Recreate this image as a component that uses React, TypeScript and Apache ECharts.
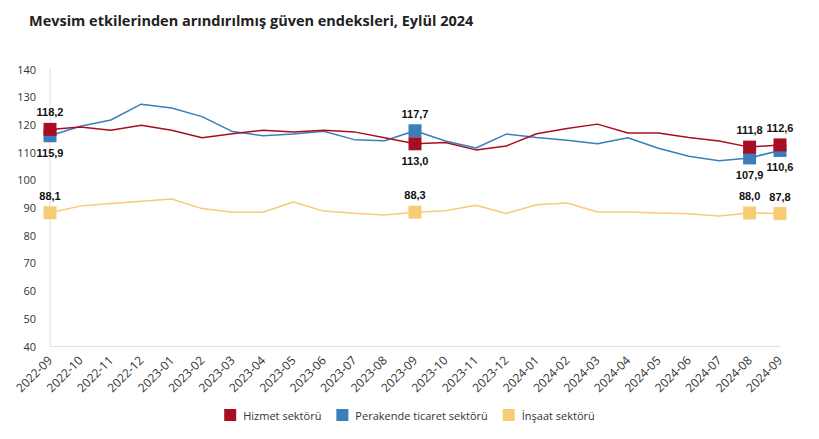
import React, { useEffect, useRef } from "react";
import * as echarts from "echarts";

const categories = [
  "2022-09", "2022-10", "2022-11", "2022-12", "2023-01", "2023-02", "2023-03", "2023-04", "2023-05",
  "2023-06", "2023-07", "2023-08", "2023-09", "2023-10", "2023-11", "2023-12", "2024-01", "2024-02",
  "2024-03", "2024-04", "2024-05", "2024-06", "2024-07", "2024-08", "2024-09",
];

const hizmet = [
  118.2, 119.1, 117.9, 119.7, 117.9, 115.2, 116.6, 117.9, 117.3, 117.9, 117.3, 115.2, 113.0,
  113.5, 110.8, 112.2, 116.6, 118.5, 120.1, 116.9, 116.9, 115.3, 114.0, 111.8, 112.6,
];
const perakende = [
  115.9, 119.3, 121.6, 127.3, 125.9, 122.8, 117.4, 115.9, 116.5, 117.5, 114.5, 114.1, 117.7,
  114.0, 111.5, 116.5, 115.3, 114.3, 113.0, 115.2, 111.4, 108.5, 106.9, 107.9, 110.6,
];
const insaat = [
  88.1, 90.5, 91.4, 92.3, 93.1, 89.6, 88.3, 88.3, 92.0, 88.7, 87.9, 87.3, 88.3,
  88.8, 90.8, 87.8, 91.0, 91.6, 88.4, 88.4, 88.0, 87.7, 86.9, 88.0, 87.8,
];

const highlighted = [0, 12, 23, 24];
// label position per highlighted index: "top" or "bottom"
const hizmetPos: Record<number, string> = { 0: "top", 12: "bottom", 23: "top", 24: "top" };
const perakendePos: Record<number, string> = { 0: "bottom", 12: "top", 23: "bottom", 24: "bottom" };
const insaatPos: Record<number, string> = { 0: "top", 12: "top", 23: "top", 24: "top" };

const seriesNames = ["Hizmet sektörü", "Perakende ticaret sektörü", "İnşaat sektörü"];
const colors = ["#A80E22", "#3A7EBA", "#F6CD74"];

const FONT = "'Open Sans', 'Noto Sans', sans-serif";

function buildData(values: number[], pos: Record<number, string>) {
  return values.map((v, i) => {
    if (highlighted.includes(i)) {
      return {
        value: v,
        symbol: "rect",
        symbolSize: 13,
        label: {
          show: true,
          position: pos[i],
          distance: 5,
          formatter: (p: any) => Number(p.value).toFixed(1).replace(".", ","),
          fontFamily: "Arial, 'Liberation Sans', sans-serif",
          fontSize: 11,
          fontWeight: "bold",
          color: "#111",
        },
      };
    }
    return { value: v };
  });
}

export default function App() {
  const ref = useRef<HTMLDivElement>(null);
  useEffect(() => {
    if (!ref.current) return;
    const chart = echarts.init(ref.current, undefined, { renderer: "svg" });
    const values = [hizmet, perakende, insaat];
    const positions = [hizmetPos, perakendePos, insaatPos];
    chart.setOption({
      animation: false,
      title: {
        text: "Mevsim etkilerinden arındırılmış güven endeksleri, Eylül 2024",
        left: 24,
        top: 8,
        textStyle: { fontFamily: FONT, fontSize: 14.5, fontWeight: "bold", color: "#222" },
      },
      legend: {
        bottom: 13,
        left: "center",
        icon: "rect",
        itemWidth: 12,
        itemHeight: 12,
        itemGap: 15,
        textStyle: { fontFamily: FONT, fontSize: 11, color: "#333", padding: [0, 0, 0, 2] },
        data: seriesNames,
      },
      grid: { left: 50, right: 39, top: 69, bottom: 93, containLabel: false },
      xAxis: {
        type: "category",
        data: categories,
        boundaryGap: false,
        axisLine: { show: true, lineStyle: { color: "#e0e0e0" } },
        axisTick: { show: false },
        axisLabel: {
          rotate: 45,
          fontFamily: FONT,
          fontSize: 12,
          color: "#333",
          interval: 0,
          margin: 12,
        },
      },
      yAxis: {
        type: "value",
        min: 40,
        max: 140,
        interval: 10,
        axisLine: { show: true, lineStyle: { color: "#efefef", width: 2 } },
        axisTick: { show: false },
        splitLine: { show: false },
        axisLabel: { fontFamily: FONT, fontSize: 11, color: "#333", margin: 14 },
      },
      series: seriesNames.map((name, k) => ({
        name,
        type: "line",
        symbol: "none",
        data: buildData(values[k], positions[k]),
        lineStyle: { width: 1.5, color: colors[k] },
        itemStyle: { color: colors[k] },
        z: k === 0 ? 3 : 2,
      })),
    });
    return () => chart.dispose();
  }, []);
  return (
    <div
      ref={ref}
      style={{ position: "absolute", left: 0, top: 0, width: 819, height: 439, background: "#fff" }}
    />
  );
}
